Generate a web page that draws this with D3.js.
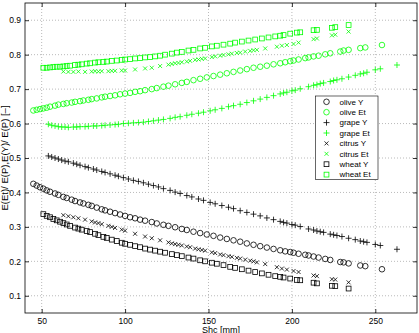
<!DOCTYPE html>
<html>
<head>
<meta charset="utf-8">
<script src="https://cdn.jsdelivr.net/npm/d3@7"></script>
<style>
  body { margin: 0; background: #fff; }
  svg { display: block; font-family: "Liberation Sans", Arial, sans-serif; }
</style>
</head>
<body>
<svg></svg>
<script>

// x values (Shc) for each crop
let oliveX = [45, 47, 49, 51, 53, 55, 58, 60, 63, 65, 68, 70, 73, 75, 78, 80, 83, 86, 88, 91, 94, 97, 100, 103, 106, 109, 112, 116, 119, 123, 126, 130, 134, 137, 141, 145, 149, 153, 157, 161, 165, 169, 173, 177, 181, 185, 189, 193, 196, 199, 201, 204, 208, 210, 213, 216, 220, 223, 229, 231, 234, 241, 244, 254]
let oliveY = [0.425, 0.420, 0.415, 0.411, 0.406, 0.402, 0.397, 0.393, 0.387, 0.384, 0.379, 0.375, 0.371, 0.368, 0.364, 0.361, 0.356, 0.351, 0.348, 0.344, 0.340, 0.336, 0.332, 0.328, 0.325, 0.321, 0.318, 0.314, 0.310, 0.306, 0.303, 0.299, 0.294, 0.291, 0.286, 0.282, 0.278, 0.274, 0.269, 0.265, 0.261, 0.257, 0.252, 0.248, 0.244, 0.240, 0.236, 0.232, 0.229, 0.227, 0.225, 0.222, 0.219, 0.217, 0.214, 0.211, 0.207, 0.204, 0.198, 0.197, 0.194, 0.188, 0.186, 0.177]
let oliveEt = [0.638, 0.640, 0.642, 0.644, 0.646, 0.649, 0.652, 0.655, 0.657, 0.659, 0.661, 0.663, 0.665, 0.667, 0.669, 0.671, 0.673, 0.676, 0.678, 0.680, 0.682, 0.685, 0.687, 0.689, 0.692, 0.694, 0.697, 0.700, 0.703, 0.707, 0.710, 0.714, 0.718, 0.721, 0.726, 0.730, 0.734, 0.738, 0.742, 0.746, 0.750, 0.754, 0.758, 0.762, 0.765, 0.768, 0.772, 0.775, 0.778, 0.781, 0.783, 0.786, 0.790, 0.792, 0.795, 0.797, 0.801, 0.804, 0.809, 0.812, 0.814, 0.819, 0.821, 0.828]

let grapeX = [54, 56, 58, 60, 62, 64, 66, 69, 71, 73, 76, 78, 81, 83, 86, 88, 91, 94, 96, 99, 102, 105, 108, 111, 114, 117, 120, 123, 127, 130, 133, 137, 140, 144, 147, 151, 154, 158, 162, 165, 169, 173, 177, 181, 185, 189, 193, 195, 197, 200, 202, 205, 210, 213, 215, 217, 219, 223, 225, 227, 230, 234, 238, 241, 243, 245, 250, 253, 263]
let grapeY = [0.506, 0.503, 0.500, 0.497, 0.494, 0.491, 0.489, 0.485, 0.482, 0.479, 0.475, 0.472, 0.468, 0.465, 0.461, 0.458, 0.454, 0.450, 0.447, 0.443, 0.439, 0.435, 0.432, 0.428, 0.424, 0.420, 0.416, 0.411, 0.406, 0.401, 0.397, 0.391, 0.387, 0.381, 0.377, 0.371, 0.367, 0.362, 0.357, 0.353, 0.347, 0.342, 0.337, 0.332, 0.326, 0.321, 0.316, 0.313, 0.311, 0.307, 0.305, 0.301, 0.294, 0.291, 0.288, 0.286, 0.284, 0.279, 0.277, 0.275, 0.272, 0.267, 0.263, 0.259, 0.257, 0.255, 0.249, 0.246, 0.235]
let grapeEt = [0.598, 0.595, 0.593, 0.591, 0.590, 0.590, 0.589, 0.590, 0.590, 0.591, 0.591, 0.592, 0.593, 0.593, 0.594, 0.595, 0.596, 0.597, 0.598, 0.600, 0.601, 0.602, 0.603, 0.604, 0.606, 0.608, 0.610, 0.612, 0.615, 0.618, 0.620, 0.624, 0.627, 0.630, 0.633, 0.637, 0.640, 0.644, 0.649, 0.652, 0.656, 0.661, 0.666, 0.671, 0.676, 0.681, 0.686, 0.689, 0.691, 0.695, 0.697, 0.701, 0.707, 0.711, 0.713, 0.716, 0.718, 0.722, 0.725, 0.727, 0.730, 0.735, 0.740, 0.744, 0.746, 0.749, 0.756, 0.759, 0.770]

let citrusX = [63, 66, 69, 72, 76, 80, 82, 84, 86, 90, 92, 94, 98, 100, 106, 112, 116, 121, 126, 128, 130, 132, 134, 137, 139, 142, 144, 146, 148, 152, 154, 157, 159, 162, 164, 167, 169, 172, 175, 177, 179, 184, 191, 194, 197, 201, 204, 213, 215, 224, 226, 234]
let citrusY = [0.334, 0.331, 0.328, 0.325, 0.321, 0.316, 0.313, 0.311, 0.308, 0.303, 0.300, 0.297, 0.292, 0.289, 0.280, 0.272, 0.267, 0.261, 0.255, 0.252, 0.250, 0.248, 0.246, 0.243, 0.241, 0.237, 0.235, 0.233, 0.231, 0.226, 0.224, 0.220, 0.218, 0.215, 0.213, 0.210, 0.208, 0.205, 0.202, 0.200, 0.197, 0.192, 0.183, 0.179, 0.176, 0.172, 0.169, 0.159, 0.157, 0.148, 0.147, 0.139]
let citrusEt = [0.751, 0.750, 0.750, 0.751, 0.750, 0.751, 0.752, 0.751, 0.752, 0.752, 0.753, 0.753, 0.754, 0.754, 0.757, 0.760, 0.762, 0.767, 0.771, 0.773, 0.775, 0.776, 0.778, 0.780, 0.782, 0.785, 0.786, 0.788, 0.789, 0.793, 0.795, 0.797, 0.799, 0.801, 0.803, 0.805, 0.806, 0.809, 0.811, 0.813, 0.814, 0.818, 0.823, 0.826, 0.828, 0.831, 0.835, 0.845, 0.847, 0.856, 0.858, 0.867]

let wheatX = [51, 53, 55, 57, 59, 61, 63, 65, 67, 70, 72, 74, 77, 79, 82, 84, 87, 89, 92, 95, 98, 100, 103, 106, 109, 112, 115, 118, 121, 124, 128, 131, 134, 138, 141, 145, 148, 152, 155, 159, 163, 166, 170, 174, 178, 182, 186, 190, 193, 195, 199, 203, 205, 213, 215, 224, 226, 234]
let wheatY = [0.337, 0.332, 0.328, 0.323, 0.319, 0.315, 0.311, 0.307, 0.303, 0.298, 0.295, 0.292, 0.288, 0.285, 0.280, 0.276, 0.271, 0.268, 0.263, 0.259, 0.254, 0.251, 0.248, 0.244, 0.241, 0.237, 0.234, 0.231, 0.228, 0.225, 0.221, 0.218, 0.215, 0.211, 0.208, 0.203, 0.200, 0.196, 0.193, 0.189, 0.184, 0.181, 0.177, 0.173, 0.169, 0.165, 0.161, 0.157, 0.155, 0.153, 0.150, 0.146, 0.145, 0.138, 0.136, 0.129, 0.128, 0.121]
let wheatEt = [0.762, 0.762, 0.763, 0.764, 0.765, 0.765, 0.766, 0.767, 0.768, 0.770, 0.771, 0.772, 0.774, 0.775, 0.777, 0.778, 0.779, 0.780, 0.782, 0.783, 0.785, 0.786, 0.787, 0.789, 0.790, 0.792, 0.793, 0.795, 0.797, 0.800, 0.803, 0.806, 0.808, 0.812, 0.814, 0.818, 0.820, 0.824, 0.826, 0.829, 0.832, 0.835, 0.838, 0.841, 0.844, 0.847, 0.850, 0.853, 0.855, 0.857, 0.861, 0.864, 0.865, 0.871, 0.872, 0.878, 0.880, 0.886]

let xTicks = [50, 100, 150, 200, 250]
let yTicks = [0.1, 0.2, 0.3, 0.4, 0.5, 0.6, 0.7, 0.8, 0.9]
let legendLabels = ['olive Y', 'olive Et', 'grape Y', 'grape Et', 'citrus Y', 'citrus Et', 'wheat Y', 'wheat Et']

let green = '#00ff00'
let black = '#000000'

// series list built from the arrays above
let series = [
    {x: oliveX, y: oliveY, marker: 'circle', color: black},
    {x: oliveX, y: oliveEt, marker: 'circle', color: green},
    {x: grapeX, y: grapeY, marker: 'plus', color: black},
    {x: grapeX, y: grapeEt, marker: 'plus', color: green},
    {x: citrusX, y: citrusY, marker: 'cross', color: black},
    {x: citrusX, y: citrusEt, marker: 'cross', color: green},
    {x: wheatX, y: wheatY, marker: 'square', color: black},
    {x: wheatX, y: wheatEt, marker: 'square', color: green}
]

let width = 419
let height = 333
let plotLeft = 25, plotRight = 417, plotTop = 3, plotBottom = 313

let svg = d3.select('svg').attr('width', width).attr('height', height)

let xScale = d3.scaleLinear().domain([40, 275]).range([plotLeft, plotRight])
let yScale = d3.scaleLinear().domain([0.05, 0.95]).range([plotBottom, plotTop])

// marker drawing
let drawMarker = (g, marker, color, cx, cy) => {
    if (marker === 'circle') {
        g.append('circle').attr('cx', cx).attr('cy', cy).attr('r', 2.8)
            .attr('fill', 'none').attr('stroke', color).attr('stroke-width', 0.8)
    } else if (marker === 'square') {
        g.append('rect').attr('x', cx - 2.4).attr('y', cy - 2.4)
            .attr('width', 4.8).attr('height', 4.8)
            .attr('fill', 'none').attr('stroke', color).attr('stroke-width', 0.8)
    } else if (marker === 'plus') {
        let s = 3
        g.append('path').attr('d', `M${cx - s},${cy}H${cx + s}M${cx},${cy - s}V${cy + s}`)
            .attr('stroke', color).attr('stroke-width', 0.8)
    } else {
        let s = 2
        g.append('path').attr('d', `M${cx - s},${cy - s}L${cx + s},${cy + s}M${cx - s},${cy + s}L${cx + s},${cy - s}`)
            .attr('stroke', color).attr('stroke-width', 0.8)
    }
}

// grid
let grid = svg.append('g')
xTicks.forEach(t => {
    grid.append('line').attr('x1', xScale(t)).attr('x2', xScale(t)).attr('y1', plotTop).attr('y2', plotBottom)
        .attr('stroke', '#a8a8a8').attr('stroke-width', 0.8).attr('stroke-dasharray', '1,2')
})
yTicks.forEach(t => {
    grid.append('line').attr('x1', plotLeft).attr('x2', plotRight).attr('y1', yScale(t)).attr('y2', yScale(t))
        .attr('stroke', '#a8a8a8').attr('stroke-width', 0.8).attr('stroke-dasharray', '1,2')
})

// points
let marks = svg.append('g')
series.forEach(s => {
    s.x.forEach((xv, i) => {
        drawMarker(marks, s.marker, s.color, xScale(xv), yScale(s.y[i]))
    })
})

// axes
let xAxis = d3.axisBottom(xScale).tickValues(xTicks).tickSize(-4).tickPadding(4.5)
let yAxis = d3.axisLeft(yScale).tickValues(yTicks).tickSize(-4).tickPadding(4).tickFormat(d3.format('.1f'))
let xAxisTop = d3.axisTop(xScale).tickValues(xTicks).tickSize(-4).tickFormat('')
let yAxisRight = d3.axisRight(yScale).tickValues(yTicks).tickSize(-4).tickFormat('')

let styleAxis = g => {
    g.select('.domain').remove()
    g.selectAll('line').attr('stroke', '#000').attr('stroke-width', 0.8)
    g.selectAll('text').attr('fill', '#000').style('font-size', '8.5px')
        .style('font-family', '"Liberation Sans", Arial, sans-serif')
}

svg.append('g').attr('transform', `translate(0,${plotBottom})`).call(xAxis).call(styleAxis)
svg.append('g').attr('transform', `translate(${plotLeft},0)`).call(yAxis).call(styleAxis)
svg.append('g').attr('transform', `translate(0,${plotTop})`).call(xAxisTop).call(styleAxis)
svg.append('g').attr('transform', `translate(${plotRight},0)`).call(yAxisRight).call(styleAxis)

svg.append('rect').attr('x', plotLeft).attr('y', plotTop)
    .attr('width', plotRight - plotLeft).attr('height', plotBottom - plotTop)
    .attr('fill', 'none').attr('stroke', '#000').attr('stroke-width', 0.8)

// labels
svg.append('text').attr('x', (plotLeft + plotRight) / 2).attr('y', 332.5).attr('text-anchor', 'middle')
    .style('font-size', '9px').text('Shc [mm]')
svg.append('text').attr('transform', `translate(8,${(plotTop + plotBottom) / 2}) rotate(-90)`)
    .attr('text-anchor', 'middle').style('font-size', '9.5px').text('E(Et)/ E(P),E(Y)/ E(P) [–]')

// legend
let legend = svg.append('g')
legend.append('rect').attr('x', 315.5).attr('y', 96).attr('width', 62.5).attr('height', 83.5)
    .attr('fill', '#fff').attr('stroke', '#000').attr('stroke-width', 0.6)
legendLabels.forEach((label, i) => {
    let ly = 101.8 + i * 10.4
    drawMarker(legend, series[i].marker, series[i].color, 326.5, ly)
    legend.append('text').attr('x', 339.5).attr('y', ly + 2.8).style('font-size', '8px').text(label)
})

</script>
</body>
</html>
